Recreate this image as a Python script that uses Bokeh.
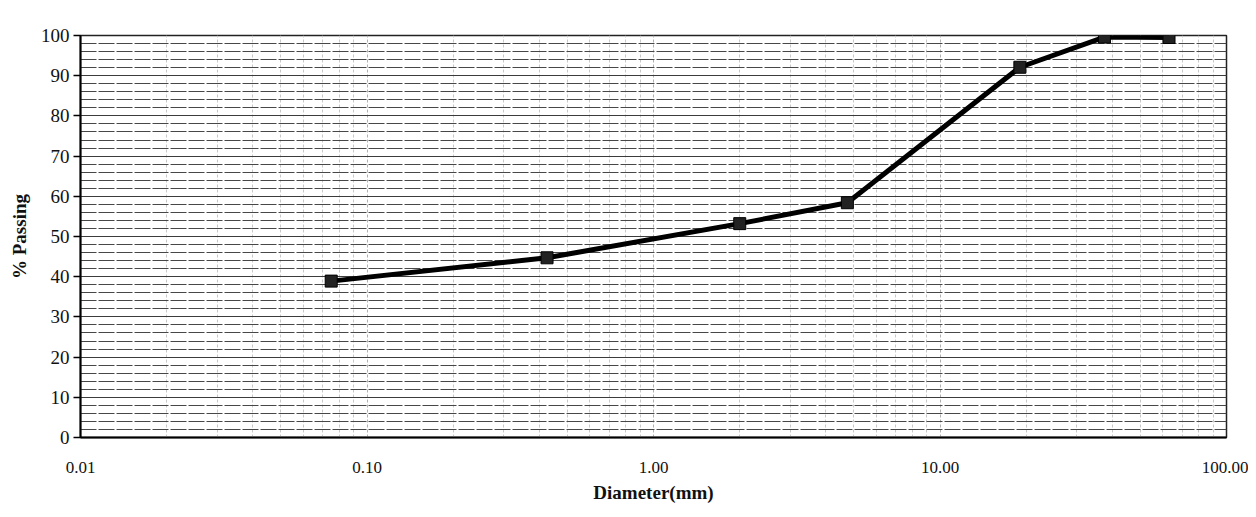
from bokeh.plotting import figure
from bokeh.models import FixedTicker, NumeralTickFormatter
from bokeh.embed import file_html
from bokeh.resources import INLINE

# Data
diameter_mm = [0.075, 0.425, 2.0, 4.75, 19.0, 37.5, 63.0]
percent_passing = [38.9, 44.7, 53.2, 58.4, 92.1, 99.6, 99.5]

x_ticks = [0.01, 0.1, 1, 10, 100]
y_ticks = list(range(0, 101, 10))
y_minor = list(range(0, 101, 2))
x_minor = [m * d for d in [0.01, 0.1, 1, 10] for m in range(2, 10)]

SERIF = "Liberation Serif"

p = figure(width=1248, height=508, x_axis_type="log",
           x_range=(0.01, 100), y_range=(0, 100),
           output_backend="svg", toolbar_location=None,
           min_border_left=80, min_border_right=22,
           min_border_top=35, min_border_bottom=71,
           background_fill_color="white", border_fill_color="white")

p.outline_line_color = "#222222"
p.outline_line_width = 1.5

# axes
p.xaxis.ticker = FixedTicker(ticks=x_ticks, minor_ticks=x_minor)
p.xaxis.formatter = NumeralTickFormatter(format="0.00")
p.yaxis.ticker = FixedTicker(ticks=y_ticks, minor_ticks=y_minor)

for ax in (p.xaxis[0], p.yaxis[0]):
    ax.axis_line_color = "black"
    ax.axis_line_width = 2
    ax.minor_tick_line_color = None
    ax.major_label_text_font = SERIF
    ax.major_label_text_color = "#111111"
    ax.axis_label_text_font = SERIF
    ax.axis_label_text_font_size = "19px"
    ax.axis_label_text_font_style = "bold"
    ax.axis_label_text_color = "#111111"

p.xaxis.major_label_text_font_size = "17px"
p.yaxis.major_label_text_font_size = "19px"

p.xaxis.major_tick_line_color = None
p.xaxis.major_label_standoff = 18
p.xaxis.axis_label = "Diameter(mm)"
p.xaxis.axis_label_standoff = 6

p.yaxis.major_tick_in = 0
p.yaxis.major_tick_out = 7
p.yaxis.major_tick_line_width = 1.5
p.yaxis.major_tick_line_color = "black"
p.yaxis.major_label_standoff = 4
p.yaxis.axis_label = "% Passing"
p.yaxis.axis_label_standoff = 8

# grids
p.xgrid.grid_line_color = "#b0b0b0"
p.xgrid.grid_line_dash = "3 2"
p.xgrid.minor_grid_line_color = "#c8c8c8"
p.xgrid.minor_grid_line_dash = "3 2"

p.ygrid.grid_line_color = "#3c3c3c"
p.ygrid.minor_grid_line_color = "#474747"
p.ygrid.minor_grid_line_dash = "16 2"

# data
p.line(diameter_mm, percent_passing, line_width=5, line_color="black")
p.scatter(diameter_mm, percent_passing, marker="square", size=12,
          fill_color="#222222", line_color="black")

open("out.html", "w").write(file_html(p, INLINE))
